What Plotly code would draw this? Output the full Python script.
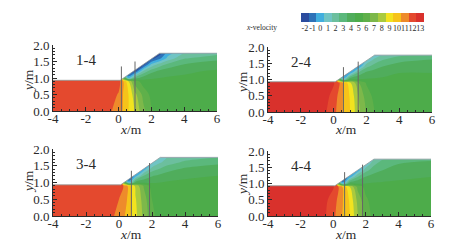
import plotly.graph_objects as go

X = [-4, -0.5, 0, 0.3, 0.6, 1, 1.5, 2, 2.5, 3, 4, 6]
Y = [0, 0.5, 0.9, 1.0, 1.2, 1.4, 1.6, 1.75]

Z1 = [
 [12.4, 11.6, 11.0, 10.4, 9.5, 8.4, 6.8, 5.6, 5.0, 4.8, 4.6, 4.6],
 [12.4, 12.0, 11.4, 10.4, 9.5, 7.8, 6.2, 5.2, 4.8, 4.7, 4.6, 4.6],
 [12.4, 12.3, 12.0, 10.4, 8.5, 6.0, 5.0, 4.7, 4.6, 4.6, 4.6, 4.6],
 [12.4, 12.3, 12.0, 6.0, 0.0, 3.0, 4.0, 4.4, 4.5, 4.6, 4.6, 4.6],
 [12.4, 12.3, 4.0, -1.0, -2.0, -1.5, 1.8, 3.2, 3.8, 4.1, 4.4, 4.6],
 [12.4, 12.3, 0.0, -2.0, -2.0, -2.0, -2.0, 0.8, 2.0, 2.8, 3.6, 4.2],
 [12.4, 12.3, 0.0, -2.0, -2.0, -2.0, -2.0, -2.0, -0.8, 0.8, 2.4, 3.1],
 [12.4, 12.3, 0.0, -2.0, -2.0, -2.0, -2.0, -2.0, -2.0, 0.0, 1.6, 2.2],
]
Z2 = [
 [12.9, 12.6, 11.9, 11.1, 10.4, 9.5, 7.8, 6.4, 5.5, 5.0, 4.7, 4.6],
 [12.9, 12.8, 12.2, 11.3, 10.4, 9.4, 7.5, 6.0, 5.2, 4.8, 4.6, 4.6],
 [12.9, 12.8, 12.6, 11.8, 10.3, 8.8, 6.6, 5.4, 4.9, 4.7, 4.6, 4.6],
 [12.9, 12.8, 12.4, 6.0, 1.0, 4.5, 4.6, 4.6, 4.6, 4.6, 4.6, 4.6],
 [12.9, 12.8, 4.0, -1.0, -2.0, 0.0, 2.8, 3.8, 4.1, 4.3, 4.5, 4.5],
 [12.9, 12.8, 0.0, -2.0, -2.0, -1.5, -0.5, 2.2, 3.0, 3.5, 4.0, 4.3],
 [12.9, 12.8, 0.0, -2.0, -2.0, -2.0, -1.0, 0.5, 1.8, 2.5, 3.2, 3.6],
 [12.9, 12.8, 0.0, -2.0, -2.0, -2.0, -1.5, -0.2, 0.8, 1.6, 2.3, 2.8],
]
Z3 = [
 [12.4, 11.7, 11.2, 10.6, 10.0, 8.8, 7.2, 5.8, 5.0, 4.7, 4.6, 4.6],
 [12.4, 12.0, 11.5, 11.0, 10.2, 8.6, 7.0, 5.5, 4.9, 4.7, 4.6, 4.6],
 [12.4, 12.3, 12.1, 11.4, 10.1, 8.2, 6.4, 5.0, 4.7, 4.6, 4.6, 4.6],
 [12.4, 12.3, 12.0, 6.0, 0.0, 4.0, 4.3, 4.4, 4.5, 4.6, 4.6, 4.6],
 [12.4, 12.3, 4.0, -1.0, -2.0, 0.0, 2.5, 3.4, 3.8, 4.1, 4.4, 4.5],
 [12.4, 12.3, 0.0, -2.0, -2.0, -1.0, 0.0, 2.0, 2.6, 3.1, 3.7, 4.2],
 [12.4, 12.3, 0.0, -2.0, -2.0, -2.0, -0.8, 0.3, 1.4, 2.1, 2.7, 3.2],
 [12.4, 12.3, 0.0, -2.0, -2.0, -2.0, -1.2, -0.2, 1.0, 1.6, 2.1, 2.5],
]
Z4 = [
 [12.8, 12.6, 11.8, 11.1, 10.4, 9.6, 7.6, 6.0, 5.2, 4.8, 4.6, 4.6],
 [12.8, 12.7, 12.1, 11.3, 10.5, 9.4, 7.2, 5.7, 5.0, 4.7, 4.6, 4.6],
 [12.8, 12.7, 12.6, 11.7, 10.3, 8.6, 6.2, 5.1, 4.7, 4.6, 4.6, 4.6],
 [12.8, 12.7, 12.4, 6.0, 0.0, 4.2, 4.4, 4.5, 4.6, 4.6, 4.6, 4.6],
 [12.8, 12.7, 4.0, -1.0, -2.0, 0.0, 2.6, 3.6, 4.0, 4.2, 4.4, 4.5],
 [12.8, 12.7, 0.0, -2.0, -2.0, -1.0, 0.0, 2.2, 3.1, 3.5, 3.9, 4.2],
 [12.8, 12.7, 0.0, -2.0, -2.0, -2.0, -0.5, 0.6, 2.3, 3.0, 3.5, 3.8],
 [12.8, 12.7, 0.0, -2.0, -2.0, -2.0, -1.0, 0.0, 1.6, 2.4, 3.0, 3.3],
]
PANELS = [Z1, Z2, Z3, Z4]
NAMES = ["1-4", "2-4", "3-4", "4-4"]
LINES = [[(0.17, 1.35), (1.0, 1.5)], [(0.6, 1.38), (1.5, 1.55)],
         [(0.75, 1.35), (1.85, 1.58)], [(0.7, 1.35), (1.8, 1.58)]]
SURF_X = [-4, 0.1, 2.5, 6]
SURF_Y = [0.93, 0.93, 1.75, 1.75]
TICKS = [-2, -1, 0, 1, 2, 3, 4, 5, 6, 7, 8, 9, 10, 11, 12, 13]
COLORS = ["#2b4c9e", "#2e72b8", "#41aede", "#70c4c4", "#6cbf9e", "#5bb87c", "#50ad5c", "#4dac4a",
          "#5fb04a", "#7db84a", "#aaca3e", "#f2e31f", "#f6c31a", "#ee8b2b", "#e4492e", "#d9312c"]

W, H = 458, 246
BOX = [(53, 217, 45, 111), (268, 432, 47, 112), (53, 218, 149, 216), (268, 431, 151, 216)]
XT = [(131, 129), (346, 129), (131, 234), (346, 234)]
YT = [(28, 81), (242, 83), (28, 182), (242, 185)]

scale = []
for i, c in enumerate(COLORS):
    scale += [[i / 16, c], [(i + 1) / 16, c]]

FONT = "Liberation Serif"
INK = "#2a2a2a"
CENTER = dict(xanchor="center", yanchor="middle", showarrow=False)
fig = go.Figure()
for i, (z, b) in enumerate(zip(PANELS, BOX)):
    n = "" if i == 0 else str(i + 1)
    xa, ya = "x" + n, "y" + n
    fig.add_trace(go.Contour(x=X, y=Y, z=z, xaxis=xa, yaxis=ya, zmin=-2.5, zmax=13.5, colorscale=scale,
                             contours=dict(start=-2.5, end=13.5, size=1, coloring="fill", showlines=False),
                             line=dict(width=0), hoverinfo="skip", showscale=False))
    fig.add_trace(go.Scatter(x=SURF_X + [6, -4, -4], y=SURF_Y + [2.05, 2.05, 0.93], xaxis=xa, yaxis=ya,
                             mode="lines", fill="toself", fillcolor="white",
                             line=dict(width=0), showlegend=False, hoverinfo="skip"))
    fig.add_trace(go.Scatter(x=SURF_X, y=SURF_Y, xaxis=xa, yaxis=ya, mode="lines",
                             line=dict(color="#8a9a9a", width=0.8), showlegend=False, hoverinfo="skip"))
    for lx, ly in LINES[i]:
        fig.add_trace(go.Scatter(x=[lx, lx], y=[0, ly], xaxis=xa, yaxis=ya, mode="lines",
                                 line=dict(color="#666", width=1), showlegend=False, hoverinfo="skip"))
    ax = dict(showgrid=False, zeroline=False, showline=True, linecolor=INK, linewidth=1, ticks="inside",
              ticklen=4, tickcolor=INK, tickfont=dict(family=FONT, size=13, color=INK), layer="above traces",
              automargin=False)
    fig.layout["xaxis" + n] = dict(ax, domain=[b[0] / W, b[1] / W], range=[-4, 6], tickvals=[-4, -2, 0, 2, 4, 6],
                                   ticktext=["-4", "-2", "0", "2", "4", "6"], anchor=ya, ticklabelstandoff=-5,
                                   minor=dict(ticks="inside", ticklen=2, dtick=0.5, tickcolor=INK))
    fig.layout["yaxis" + n] = dict(ax, domain=[1 - b[3] / H, 1 - b[2] / H], range=[0, 2], tickvals=[0, 0.5, 1, 1.5, 2],
                                   ticktext=["0.0", "0.5", "1.0", "1.5", "2.0"], anchor=xa,
                                   minor=dict(ticks="inside", ticklen=2, dtick=0.1, tickcolor=INK))
    fig.add_annotation(text=NAMES[i], xref=xa, yref=ya, x=-2, y=1.55, font=dict(family=FONT, size=15, color=INK), **CENTER)
    fig.add_annotation(text="<i>x</i>/m", xref="paper", yref="paper", x=XT[i][0] / W, y=1 - XT[i][1] / H,
                       font=dict(family=FONT, size=13.5, color=INK), **CENTER)
    fig.add_annotation(text="<i>y</i>/m", xref="paper", yref="paper", x=YT[i][0] / W, y=1 - YT[i][1] / H,
                       textangle=-90, font=dict(family=FONT, size=13.5, color=INK), **CENTER)

fig.add_trace(go.Heatmap(x=TICKS, y=[0], z=[TICKS], zmin=-2.5, zmax=13.5, colorscale=scale, showscale=False,
                         xaxis="x5", yaxis="y5", hoverinfo="skip"))
fig.layout.xaxis5 = dict(domain=[301 / W, 424 / W], anchor="y5", range=[-2.5, 13.5], tickvals=TICKS,
                         ticktext=[str(t) for t in TICKS], ticks="", showline=False, showgrid=False, zeroline=False,
                         tickfont=dict(family=FONT, size=8, color=INK), tickangle=0, automargin=False)
fig.layout.yaxis5 = dict(domain=[1 - 22 / H, 1 - 13 / H], anchor="x5", visible=False)

fig.add_annotation(text="<i>x</i>-velocity", xref="paper", yref="paper", x=261 / W, y=1 - 28 / H,
                   font=dict(family=FONT, size=7.5, color=INK), **CENTER)
fig.update_layout(width=W, height=H, margin=dict(l=0, r=0, t=0, b=0), paper_bgcolor="white", plot_bgcolor="white",
                  showlegend=False)
fig.write_html("out.html", config=dict(displayModeBar=False),
               post_script="document.body.style.margin='0';document.documentElement.style.overflow='hidden';")
